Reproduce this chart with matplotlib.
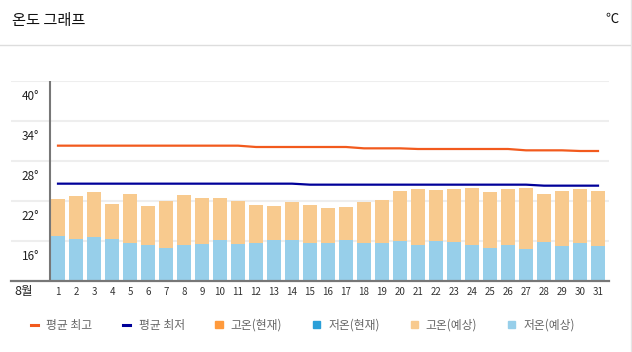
"""
온도 그래프 -- August daily forecast highs/lows with the average high/low lines.
"""

import matplotlib
matplotlib.use("Agg")
import matplotlib.pyplot as plt
from matplotlib.lines import Line2D
from matplotlib.patches import Patch
from matplotlib.transforms import ScaledTranslation

plt.rcParams["font.family"] = ["Noto Sans CJK KR", "DejaVu Sans"]

days = list(range(1, 32))
day_labels = [str(d) for d in days]

# forecast high / low per day (°C)
high_fc = [22.3, 22.75, 23.35, 21.55, 23.05, 21.25, 22.0, 22.9, 22.45, 22.45,
           22.0, 21.4, 21.25, 21.85, 21.4, 20.95, 21.1, 21.85, 22.15, 23.5,
           23.8, 23.65, 23.8, 23.95, 23.35, 23.8, 23.95, 23.05, 23.5, 23.8, 23.5]
low_fc = [16.8, 16.3, 16.6, 16.3, 15.7, 15.4, 14.95, 15.4, 15.6, 16.15,
          15.6, 15.7, 16.15, 16.15, 15.7, 15.7, 16.15, 15.7, 15.7, 16.0,
          15.4, 16.0, 15.85, 15.4, 14.95, 15.4, 14.8, 15.85, 15.25, 15.7, 15.25]

# climatological averages
avg_high = [30.3] * 11 + [30.1] * 6 + [29.9] * 3 + [29.8] * 6 + [29.6] * 3 + [29.5] * 2
avg_low = [24.6] * 14 + [24.45] * 13 + [24.3] * 4

ytick_vals = [16, 22, 28, 34, 40]
ytick_labels = ["16°", "22°", "28°", "34°", "40°"]
month_label = "8월"

legend_labels = ["평균 최고", "평균 최저", "고온(현재)", "저온(현재)", "고온(예상)", "저온(예상)"]

C_AVG_HIGH = "#f25a1d"
C_AVG_LOW = "#000099"
C_HIGH_NOW = "#ff9a3c"
C_LOW_NOW = "#2a9fd8"
C_HIGH_FC = "#f8ca8e"
C_LOW_FC = "#97cfea"

W, H = 632, 352
fig = plt.figure(figsize=(W / 100, H / 100), dpi=100)

# header
fig.text(12 / W, 1 - 21 / H, "온도 그래프", fontsize=11, color="#111111", va="center", ha="left")
fig.text(619 / W, 1 - 19 / H, "℃", fontsize=9.5, color="#111111", va="center", ha="right")
fig.add_artist(Line2D([0, 1], [1 - 44.5 / H] * 2, color="#dddddd", lw=1))
fig.add_artist(Line2D([630.5 / W] * 2, [0, 1], color="#e6e6e6", lw=1))

ax = fig.add_axes([11 / W, (H - 281) / H, 598 / W, 200 / H])
ax.set_xlim(1 - 47 / 18, 31 + 11 / 18)
ax.set_ylim(10, 40)

for v in ytick_vals:
    ax.axhline(v, color="#eeeeee", lw=1.5, zorder=0)

ax.bar(days, high_fc, width=14 / 18, color=C_HIGH_FC, zorder=2)
ax.bar(days, low_fc, width=14 / 18, color=C_LOW_FC, zorder=3)

ax.plot(days, avg_high, color=C_AVG_HIGH, lw=1.6, zorder=4)
ax.plot(days, avg_low, color=C_AVG_LOW, lw=1.6, zorder=4)

# left "spine" sits inside the plot box, grid runs past it
ax.axvline(1 - 8 / 18, color="#777777", lw=1.5, zorder=5)
for s in ["top", "right", "left"]:
    ax.spines[s].set_visible(False)
ax.spines["bottom"].set_color("#777777")
ax.spines["bottom"].set_linewidth(1.6)
ax.spines["bottom"].set_zorder(6)

ax.set_yticks([])
for v, lab in zip(ytick_vals, ytick_labels):
    ax.text(-0.06, v - 2.35, lab, ha="right", va="center", fontsize=8.5, color="#222222")

ax.set_xticks(days, day_labels)
ax.tick_params(axis="x", length=0, pad=4, labelsize=7, labelcolor="#333333")
ax.text(1 - 34 / 18, -0.055, month_label, transform=ax.get_xaxis_transform(),
        ha="center", va="center", fontsize=9, color="#222222")

handles = [
    Line2D([], [], color=C_AVG_HIGH, lw=2.2),
    Line2D([], [], color=C_AVG_LOW, lw=2.2),
    Patch(color=C_HIGH_NOW),
    Patch(color=C_LOW_NOW),
    Patch(color=C_HIGH_FC),
    Patch(color=C_LOW_FC),
]
fig.legend(handles, legend_labels, loc="center", bbox_to_anchor=(303 / W, 1 - 325 / H),
           ncol=6, frameon=False, fontsize=8.5, labelcolor="#666666",
           handlelength=0.6, handleheight=0.6, handletextpad=0.7, columnspacing=2.6)

fig.savefig("out.png", dpi=100)
